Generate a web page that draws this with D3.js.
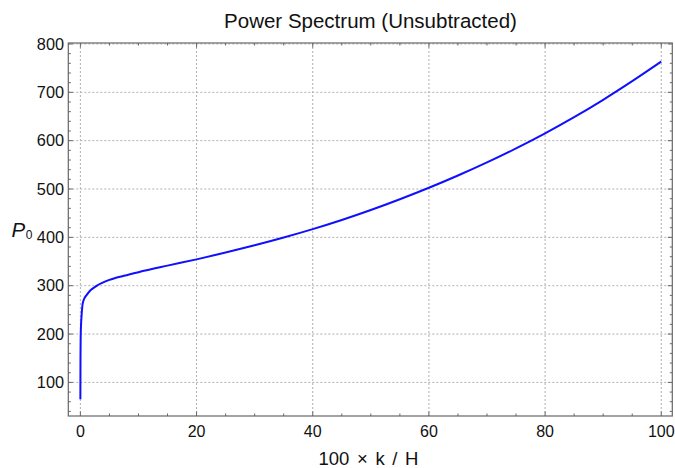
<!DOCTYPE html>
<html><head><meta charset="utf-8">
<script src="https://cdn.jsdelivr.net/npm/d3@7"></script>
<style>body{margin:0;background:#fff}svg{display:block;font-family:"Liberation Sans",Arial,sans-serif}</style>
</head><body><svg id="c" width="675" height="468"></svg>
<script>
const kValues = [0, 0.02, 0.05, 0.1, 0.2, 0.33, 0.55, 1.1, 1.7, 2.85, 5, 7.5, 10, 15, 20, 25, 30, 35, 40, 45, 50, 55, 60, 65, 70, 75, 80, 85, 90, 95, 100];
const pValues = [65, 150, 190, 215, 237, 257, 270, 281, 290, 300, 312, 320.5, 328, 341.5, 354.5, 368.5, 383.5, 399.6, 417, 435.9, 456.5, 478.8, 502.6, 528, 555.1, 584.1, 615.2, 648.6, 684.5, 723, 763.5];
const xTicks = [0, 20, 40, 60, 80, 100];
const yTicks = [100, 200, 300, 400, 500, 600, 700, 800];
const titleText = "Power Spectrum (Unsubtracted)";
const xLabel = "100 × k / H";

const svg = d3.select("#c");
const L = 68.3, R = 672.3, T = 43, B = 416;
const x = d3.scaleLinear().domain([-2.08, 101.9]).range([L, R]);
const y = d3.scaleLinear().domain([30.5, 802]).range([B, T]);
const frame = "#666";

// grid
const g = svg.append("g");
g.selectAll(".gx").data(xTicks).join("line")
  .attr("x1", d => x(d)).attr("x2", d => x(d)).attr("y1", T).attr("y2", B)
  .attr("stroke", "#b0b0b0").attr("stroke-width", 1).attr("stroke-dasharray", "2,2");
g.selectAll(".gy").data(yTicks).join("line")
  .attr("x1", L).attr("x2", R).attr("y1", d => y(d)).attr("y2", d => y(d))
  .attr("stroke", "#b0b0b0").attr("stroke-width", 1).attr("stroke-dasharray", "2,2");

// curve
const line = d3.line().x((d, i) => x(kValues[i])).y(d => y(d)).curve(d3.curveMonotoneX);
svg.append("path").datum(pValues).attr("d", line)
  .attr("fill", "none").attr("stroke", "#1010ff").attr("stroke-width", 2);

// frame
svg.append("rect").attr("x", L).attr("y", T).attr("width", R - L).attr("height", B - T)
  .attr("fill", "none").attr("stroke", frame).attr("stroke-width", 1.2);

// ticks (inward, all sides)
const xMinor = d3.range(0, 101, 5);
const yMinor = d3.range(40, 801, 20);
const tk = svg.append("g").attr("stroke", frame).attr("stroke-width", 1);
xMinor.forEach(v => {
  const len = xTicks.includes(v) ? 4.5 : 2.5;
  tk.append("line").attr("x1", x(v)).attr("x2", x(v)).attr("y1", B).attr("y2", B - len);
  tk.append("line").attr("x1", x(v)).attr("x2", x(v)).attr("y1", T).attr("y2", T + len);
});
yMinor.forEach(v => {
  const len = yTicks.includes(v) ? 4.5 : 2.5;
  tk.append("line").attr("x1", L).attr("x2", L + len).attr("y1", y(v)).attr("y2", y(v));
  tk.append("line").attr("x1", R).attr("x2", R - len).attr("y1", y(v)).attr("y2", y(v));
});

// tick labels
svg.append("g").selectAll("text").data(xTicks).join("text")
  .attr("x", d => x(d)).attr("y", 436.5).attr("text-anchor", "middle")
  .attr("font-size", 16).attr("fill", "#111").text(d => d);
svg.append("g").selectAll("text").data(yTicks).join("text")
  .attr("x", 64).attr("y", d => y(d) + 5.7).attr("text-anchor", "end")
  .attr("font-size", 16.3).attr("fill", "#111").text(d => d);

// title and labels
svg.append("text").attr("x", 370.5).attr("y", 28.3).attr("text-anchor", "middle")
  .attr("font-size", 20.5).attr("fill", "#111").text(titleText);
svg.append("text").attr("x", 368.5).attr("y", 465).attr("text-anchor", "middle")
  .attr("font-size", 18.5).attr("word-spacing", 2.5).attr("fill", "#111").text(xLabel);
const yl = svg.append("text").attr("x", 11.5).attr("y", 237.3).attr("font-size", 20.5).attr("fill", "#111");
yl.append("tspan").attr("font-style", "italic").text("P");
yl.append("tspan").attr("font-size", 12).attr("dx", 0.5).attr("dy", 2).text("0");
</script></body></html>
